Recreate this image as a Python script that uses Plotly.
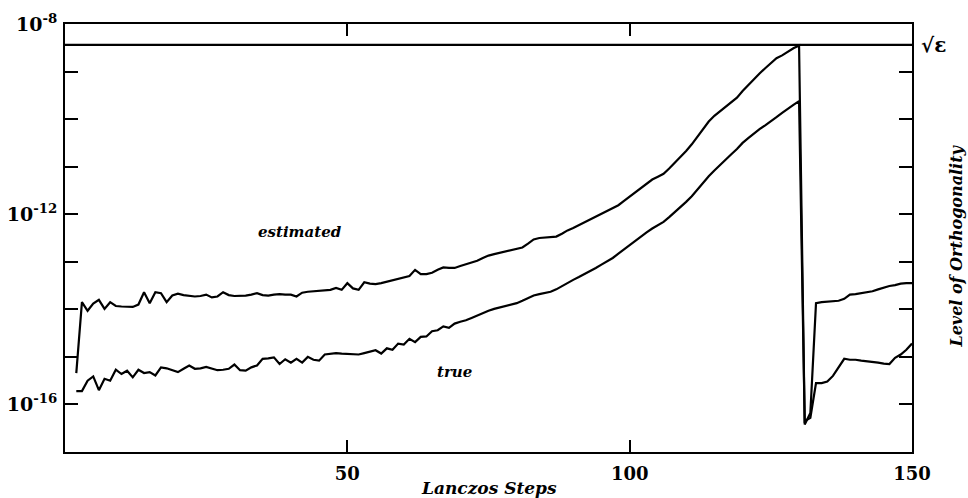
import plotly.graph_objects as go

# Lanczos steps at which the level of orthogonality is recorded
steps = list(range(2, 151))

# log10 of the estimated level of orthogonality, one value per step (2..150)
estimated_log10 = [
    -15.34, -13.85, -14.03, -13.88, -13.80, -13.99, -13.85, -13.93, -13.94, -13.94,
    -13.95, -13.90, -13.64, -13.87, -13.64, -13.66, -13.85, -13.71, -13.67, -13.70,
    -13.72, -13.73, -13.72, -13.69, -13.75, -13.73, -13.64, -13.70, -13.72, -13.72,
    -13.71, -13.69, -13.66, -13.70, -13.71, -13.69, -13.68, -13.69, -13.69, -13.73,
    -13.65, -13.63, -13.62, -13.61, -13.60, -13.59, -13.55, -13.59, -13.45, -13.56,
    -13.59, -13.43, -13.46, -13.47, -13.45, -13.42, -13.39, -13.36, -13.33, -13.30,
    -13.17, -13.26, -13.26, -13.23, -13.17, -13.12, -13.13, -13.13, -13.09, -13.05,
    -13.02, -12.98, -12.92, -12.87, -12.84, -12.81, -12.79, -12.76, -12.73, -12.70,
    -12.62, -12.53, -12.50, -12.49, -12.48, -12.47, -12.41, -12.34, -12.29, -12.23,
    -12.17, -12.11, -12.05, -11.99, -11.93, -11.87, -11.81, -11.72, -11.63, -11.54,
    -11.46, -11.36, -11.27, -11.21, -11.15, -11.04, -10.92, -10.80, -10.67, -10.53,
    -10.37, -10.22, -10.05, -9.93, -9.83, -9.75, -9.64, -9.55, -9.41, -9.28,
    -9.15, -9.04, -8.93, -8.82, -8.72, -8.66, -8.58, -8.51, -8.45, -16.42,
    -16.18, -13.87, -13.85, -13.84, -13.83, -13.82, -13.78, -13.69, -13.68, -13.66,
    -13.64, -13.62, -13.58, -13.54, -13.51, -13.49, -13.46, -13.45, -13.45,
]

# log10 of the true level of orthogonality, one value per step (2..150)
true_log10 = [
    -15.72, -15.72, -15.50, -15.41, -15.70, -15.46, -15.50, -15.27, -15.36, -15.29,
    -15.43, -15.27, -15.34, -15.32, -15.39, -15.22, -15.24, -15.28, -15.32, -15.25,
    -15.18, -15.25, -15.24, -15.21, -15.24, -15.28, -15.27, -15.25, -15.16, -15.28,
    -15.29, -15.22, -15.18, -15.04, -15.03, -15.01, -15.15, -15.05, -15.12, -15.04,
    -15.12, -15.00, -15.06, -15.08, -14.95, -14.93, -14.92, -14.93, -14.94, -14.95,
    -14.95, -14.92, -14.89, -14.86, -14.93, -14.82, -14.85, -14.72, -14.74, -14.62,
    -14.69, -14.58, -14.57, -14.46, -14.44, -14.36, -14.39, -14.30, -14.26, -14.23,
    -14.18, -14.13, -14.07, -14.03, -13.99, -13.96, -13.93, -13.90, -13.87, -13.82,
    -13.76, -13.71, -13.68, -13.65, -13.63, -13.58, -13.51, -13.44, -13.38, -13.32,
    -13.26, -13.20, -13.13, -13.06, -12.99, -12.92, -12.83, -12.74, -12.64, -12.55,
    -12.46, -12.38, -12.30, -12.23, -12.16, -12.06, -11.96, -11.86, -11.74, -11.62,
    -11.48, -11.33, -11.20, -11.08, -10.96, -10.86, -10.74, -10.63, -10.50, -10.40,
    -10.30, -10.21, -10.13, -10.05, -9.96, -9.87, -9.78, -9.70, -9.62, -16.35,
    -16.28, -15.55, -15.55, -15.52, -15.40, -15.22, -15.04, -15.06, -15.06, -15.08,
    -15.09, -15.11, -15.12, -15.14, -15.15, -15.02, -14.95, -14.85, -14.72,
]

# square root of machine precision (reorthogonalization threshold)
sqrt_eps_log10 = -8.44

x_range = [0, 150]
x_tick_vals = [50, 100, 150]
y_decades = list(range(-16, -8))  # 10^-16 .. 10^-9 tick marks
y_label_decades = [-16, -12, -8]

estimated = [10 ** v for v in estimated_log10]
true_vals = [10 ** v for v in true_log10]
sqrt_eps = 10 ** sqrt_eps_log10

y_tick_vals = [10.0 ** d for d in y_decades + [-8]]
y_tick_text = [
    (f"10<sup>{d}</sup>" if d in y_label_decades else "") for d in y_decades + [-8]
]

LINE = dict(color="black", width=2.2)
SERIF = "DejaVu Serif"

fig = go.Figure()
fig.add_trace(go.Scatter(x=steps, y=estimated, mode="lines", line=LINE,
                         name="estimated", showlegend=False))
fig.add_trace(go.Scatter(x=steps, y=true_vals, mode="lines", line=LINE,
                         name="true", showlegend=False))
fig.add_trace(go.Scatter(x=x_range, y=[sqrt_eps, sqrt_eps], mode="lines",
                         line=LINE, showlegend=False))

fig.update_xaxes(
    range=x_range,
    tickvals=x_tick_vals,
    ticks="inside", ticklen=12, tickwidth=2, tickcolor="black",
    showline=True, linewidth=2, linecolor="black", mirror="ticks",
    showgrid=False, zeroline=False, automargin=False,
    ticklabelstandoff=4,
    tickfont=dict(family=SERIF, size=18, color="black", weight="bold"),
)
fig.update_yaxes(
    type="log",
    range=[-17, -8],
    tickvals=y_tick_vals,
    ticktext=y_tick_text,
    ticks="inside", ticklen=13, tickwidth=2, tickcolor="black",
    showline=True, linewidth=2, linecolor="black", mirror="ticks",
    showgrid=False, zeroline=False, automargin=False,
    ticklabelstandoff=2,
    tickfont=dict(family=SERIF, size=19, color="black", weight="bold"),
)

label_font = dict(family=SERIF, size=15, color="black", weight="bold")
fig.add_annotation(x=41.6, y=-12.37, xref="x", yref="y",
                   text="<i>estimated</i>", showarrow=False, font=label_font)
fig.add_annotation(x=68.9, y=-15.31, xref="x", yref="y",
                   text="<i>true</i>", showarrow=False, font=label_font)
fig.add_annotation(x=1.0, xref="paper", y=sqrt_eps_log10, yref="y",
                   xanchor="left", xshift=7, text="√ε", showarrow=False,
                   font=dict(family=SERIF, size=20, color="black", weight="bold"))
fig.add_annotation(x=1.0, xref="paper", y=0.48, yref="paper",
                   xanchor="center", xshift=45,
                   text="<i>Level of Orthogonality</i>", textangle=-90,
                   showarrow=False,
                   font=dict(family=SERIF, size=16, color="black", weight="bold"))
fig.add_annotation(x=0.5, xref="paper", y=0.0, yref="paper",
                   yanchor="middle", yshift=-36,
                   text="<i>Lanczos Steps</i>", showarrow=False,
                   font=dict(family=SERIF, size=17, color="black", weight="bold"))

fig.update_layout(
    width=968, height=498,
    margin=dict(l=65, r=56, t=24, b=46, autoexpand=False),
    paper_bgcolor="white", plot_bgcolor="white",
)

fig.write_html("out.html")
